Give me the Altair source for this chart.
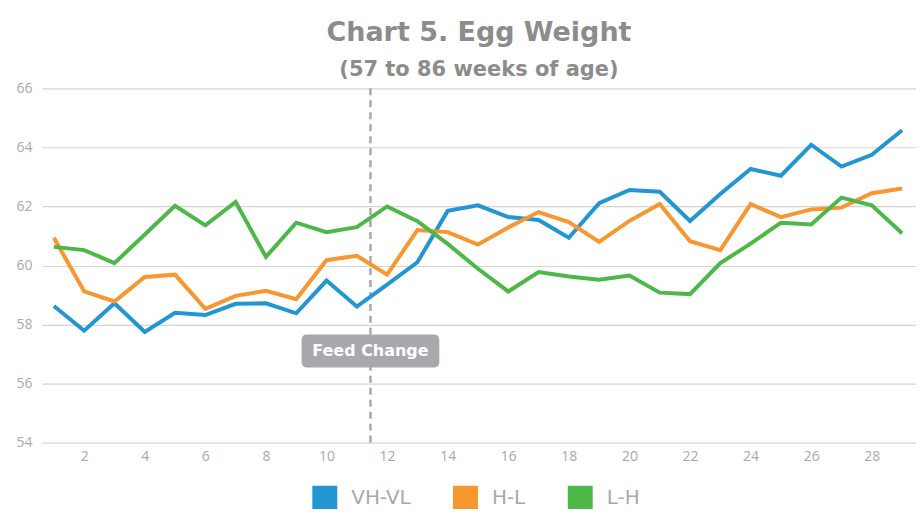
import altair as alt
import pandas as pd

weeks = list(range(1, 30))
vh_vl = [58.63, 57.79, 58.72, 57.75, 58.40, 58.32, 58.70, 58.72, 58.38, 59.49,
         58.61, 59.35, 60.11, 61.85, 62.04, 61.64, 61.54, 60.94, 62.11, 62.56,
         62.50, 61.51, 62.42, 63.27, 63.04, 64.09, 63.35, 63.75, 64.58]
h_l = [60.94, 59.12, 58.78, 59.61, 59.69, 58.53, 58.97, 59.14, 58.86, 60.18,
       60.33, 59.69, 61.20, 61.13, 60.71, 61.29, 61.81, 61.47, 60.80, 61.51,
       62.08, 60.82, 60.52, 62.08, 61.64, 61.90, 61.96, 62.45, 62.61]
l_h = [60.63, 60.52, 60.08, 61.05, 62.02, 61.36, 62.15, 60.29, 61.45, 61.13,
       61.30, 62.00, 61.50, 60.73, 59.89, 59.12, 59.78, 59.63, 59.52, 59.66,
       59.08, 59.03, 60.08, 60.74, 61.45, 61.39, 62.30, 62.04, 61.09]
series_names = ["VH-VL", "H-L", "L-H"]
series_colors = ["#2196d3", "#f8962f", "#4db848"]
x_ticks = list(range(2, 30, 2))
y_ticks = [54, 56, 58, 60, 62, 64, 66]
feed_change_week = 11.45
feed_label = "Feed Change"
feed_label_y = 57.1

rows = []
for name, vals in zip(series_names, [vh_vl, h_l, l_h]):
    for w, v in zip(weeks, vals):
        rows.append({"week": w, "weight": v, "series": name})
df = pd.DataFrame(rows)

font = "Open Sans"
wide = "DejaVu Sans"
xscale = alt.Scale(domain=[0.605, 29.46], nice=False, zero=False)
yscale = alt.Scale(domain=[54, 66], nice=False, zero=False)

lines = alt.Chart(df).mark_line(strokeWidth=4, strokeJoin="miter").encode(
    x=alt.X("week:Q", scale=xscale,
            axis=alt.Axis(values=x_ticks, title=None, grid=False, domain=False,
                          ticks=False, labelFontSize=14, labelColor="#a9a9a9",
                          labelFont=font, labelPadding=7)),
    y=alt.Y("weight:Q", scale=yscale,
            axis=alt.Axis(values=y_ticks, title=None, grid=True, gridColor="#d4d4d4",
                          gridWidth=1.2, domain=False, ticks=False, labelFontSize=14,
                          labelColor="#a9a9a9", labelFont=font, labelPadding=10)),
    color=alt.Color("series:N", sort=series_names,
                    scale=alt.Scale(domain=series_names, range=series_colors),
                    legend=alt.Legend(title=None, orient="none", legendX=271, legendY=398,
                                      direction="horizontal",
                                      symbolType="square", symbolSize=144,
                                      symbolStrokeWidth=13, symbolOpacity=1,
                                      labelFontSize=20, labelColor="#a9a9a9",
                                      labelFont=wide, columnPadding=22,
                                      labelOffset=14)),
)

rule = alt.Chart(pd.DataFrame({"x": [feed_change_week]})).mark_rule(
    color="#a9a9a9", strokeWidth=2.5, strokeDash=[7, 5]
).encode(x=alt.X("x:Q", scale=xscale), y=alt.datum(66), y2=alt.datum(54))

box = alt.Chart(pd.DataFrame({"x": [feed_change_week], "y": [feed_label_y]})).mark_rect(
    width=138, height=33, cornerRadius=5, color="#a8a9ac"
).encode(x=alt.X("x:Q", scale=xscale), y=alt.Y("y:Q", scale=yscale))

label = alt.Chart(pd.DataFrame({"x": [feed_change_week], "y": [feed_label_y], "t": [feed_label]})).mark_text(
    color="white", fontSize=16, fontWeight="bold", font=wide, baseline="middle", align="center"
).encode(x=alt.X("x:Q", scale=xscale), y=alt.Y("y:Q", scale=yscale), text="t:N")

chart = alt.layer(rule, lines, box, label).properties(
    width=876, height=355,
    autosize=alt.AutoSizeParams(type="none"),
    padding={"left": 34, "top": 80, "right": 0, "bottom": 66},
    title=alt.TitleParams(text="Chart 5. Egg Weight", subtitle="(57 to 86 weeks of age)",
                          fontSize=27, subtitleFontSize=21, font=wide, subtitleFont=wide,
                          fontWeight="bold", subtitleFontWeight="bold",
                          color="#8c8c8c", subtitleColor="#8c8c8c",
                          anchor="middle", offset=0, subtitlePadding=12),
).configure_view(stroke=None)

chart.save("out.html", embed_options={"renderer": "svg", "actions": False})
